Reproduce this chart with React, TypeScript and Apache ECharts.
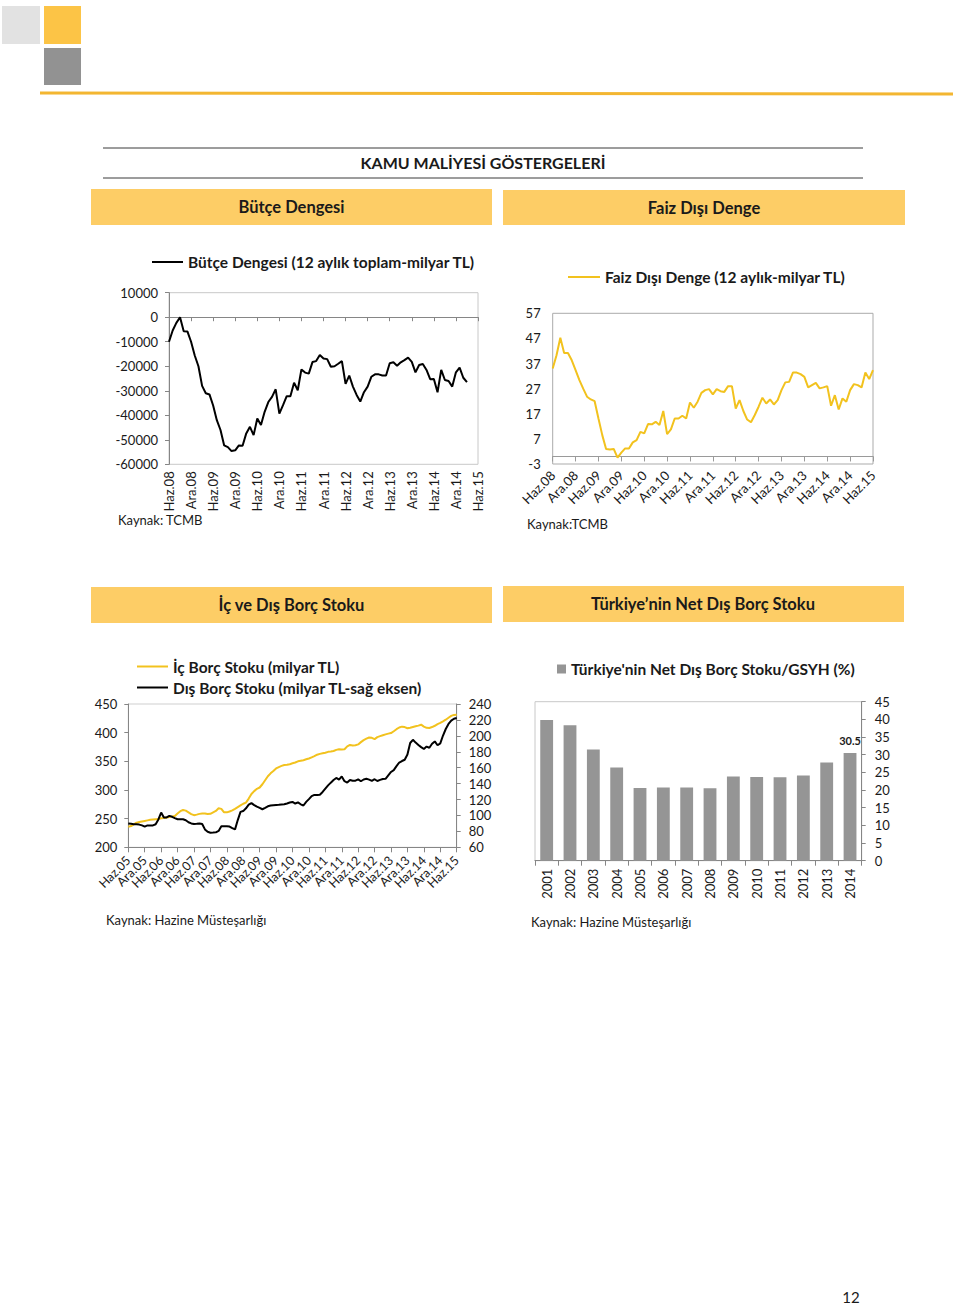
import React, { useEffect, useRef } from "react";
import * as echarts from "echarts";

const FONT = "Lato, 'Noto Sans', sans-serif";
const TEXT = "#1a1a1a";

const TR_MONTHS = ["Oca", "Şub", "Mar", "Nis", "May", "Haz", "Tem", "Ağu", "Eyl", "Eki", "Kas", "Ara"];
function monthLabels(startYear: number, startMonth: number, count: number): string[] {
  const out: string[] = [];
  for (let i = 0; i < count; i++) {
    const m = (startMonth + i) % 12;
    const y = startYear + Math.floor((startMonth + i) / 12);
    out.push(TR_MONTHS[m] + "." + String(y % 100).padStart(2, "0"));
  }
  return out;
}

// Bütçe Dengesi: Haz.08 .. Haz.15 (monthly)
const budgetMonths = monthLabels(2008, 5, 85);
const budgetBalance = [
  -10000, -5400, -2300, 0, -5700, -5800, -10000, -15600, -20000, -28000,
  -31000, -31500, -36000, -42000, -46000, -52300, -53000, -54600, -54300, -52300,
  -52400, -47400, -44700, -48100, -41300, -44000, -38600, -34600, -32500, -29400,
  -39300, -35900, -32200, -32200, -26700, -29800, -21300, -22600, -23000, -18300,
  -17900, -15400, -16800, -17100, -20200, -20000, -19000, -17900, -27200, -23800,
  -28300, -31700, -34400, -30600, -28300, -24300, -23300, -23300, -23800, -23800,
  -18800, -18400, -19800, -18400, -17500, -16500, -18200, -22500, -19500, -19100,
  -21500, -25300, -25200, -30600, -21500, -25600, -26000, -28300, -22500, -20600,
  -24700, -26500,
];

// Faiz Dışı Denge: Haz.08 .. Haz.15
const primaryMonths = monthLabels(2008, 5, 85);
const primaryBalance = [
  35.0, 40.3, 47.3, 41.2, 41.2, 38.3, 34.4, 30.4, 27.0, 23.8,
  22.7, 22.0, 15.1, 8.5, 3.0, 2.8, 3.0, -0.5, 1.5, 3.2,
  3.2, 5.6, 6.5, 9.8, 9.2, 12.9, 12.8, 13.8, 12.5, 18.1,
  8.9, 10.8, 15.1, 15.1, 16.2, 15.1, 21.5, 19.4, 21.8, 25.3,
  26.4, 26.8, 24.7, 26.8, 26.0, 25.7, 28.0, 28.0, 19.1, 22.4,
  18.1, 14.7, 13.6, 16.5, 19.8, 23.4, 21.1, 22.7, 20.7, 22.4,
  26.4, 29.5, 29.7, 33.4, 33.4, 32.8, 31.7, 27.5, 28.4, 29.3,
  27.1, 27.5, 28.0, 20.2, 24.4, 18.7, 23.1, 21.8, 26.4, 28.8,
  28.4, 27.5, 33.4, 30.8, 34.4,
];
const primaryTicks = [-3, 7, 17, 27, 37, 47, 57];

// İç ve Dış Borç Stoku: Haz.05 .. Haz.15
const debtMonths = monthLabels(2005, 5, 121);
const domesticDebt = [
  236, 237, 240, 243, 244, 245, 246, 247, 248, 248.5,
  249, 249.5, 250.5, 251, 252, 253, 253.6, 254.5, 259, 263,
  265, 264, 261, 258, 256, 257, 258.3, 259, 259, 258,
  258.5, 261, 263.5, 268, 267, 261, 261, 262.5, 264.5, 267,
  270, 273, 276, 278, 285, 293, 298, 302, 304.3, 310,
  317, 324, 329, 333, 337.5, 340, 342, 343.5, 344, 345,
  346.5, 348, 350, 351, 352, 353.5, 355, 357, 359, 361.5,
  363, 364, 365, 366.5, 367.2, 368, 370, 371, 370.5, 371,
  376, 378.5, 377.5, 378, 379.5, 383.5, 387, 389.5, 391.5, 391,
  388.8, 392.3, 394, 395.5, 397, 398.3, 399.3, 402.5, 406, 409,
  410.5, 409.7, 407.7, 408.7, 410, 411.3, 412.3, 413.9, 410.6, 408.4,
  408.2, 409.8, 412, 415, 417, 419.7, 422.6, 426, 429.2, 431,
  431.4,
];
const externalDebt = [
  90, 89.5, 89, 88.9, 88.5, 87.5, 86, 87.5, 87.5, 87.5,
  89, 95, 103.7, 97.5, 97.5, 99.5, 98.3, 96.7, 95.2, 95.2,
  95.2, 94, 91.5, 90, 89.2, 89.5, 90, 89.2, 82.5, 79.5,
  78.3, 78.5, 78.75, 80.5, 86.5, 86.5, 86.5, 86, 84, 82.5,
  94.2, 104.5, 105.5, 109, 113.5, 115.5, 113, 111, 109.5, 107.8,
  109.5, 111.5, 112.5, 112.9, 113.1, 113.3, 113.7, 114, 115, 116.2,
  117, 115, 116.5, 114, 112.5, 117, 120.5, 124.3, 125.8, 125.6,
  126, 129.5, 133.7, 137.8, 141.2, 144.5, 147.1, 145, 149, 143,
  141.3, 144.5, 143.5, 143.7, 145.4, 143, 145.2, 146, 145, 143.5,
  145.5, 143.3, 144.7, 145.8, 146, 150.3, 154.6, 157, 162, 166.5,
  168.4, 170, 176.5, 191, 195, 191.5, 188.5, 185.8, 183.5, 186.5,
  185, 190, 193, 188.2, 190.5, 200.4, 208.6, 215, 219.2, 221.5,
  222.5,
];

// Türkiye'nin Net Dış Borç Stoku / GSYH (%)
const years = ["2001", "2002", "2003", "2004", "2005", "2006", "2007", "2008", "2009", "2010", "2011", "2012", "2013", "2014"];
const netExternalDebtRatio = [39.8, 38.3, 31.5, 26.4, 20.6, 20.7, 20.75, 20.5, 23.8, 23.7, 23.6, 24.1, 27.8, 30.5];
const labelledYears = ["2014"];

const S1 = "Bütçe Dengesi (12 aylık toplam-milyar TL)";
const S2 = "Faiz Dışı Denge (12 aylık-milyar TL)";
const S3a = "İç Borç Stoku (milyar TL)";
const S3b = "Dış Borç Stoku (milyar TL-sağ eksen)";
const S4 = "Türkiye'nin Net Dış Borç Stoku/GSYH (%)";

const YELLOW = "#f2c21e";
const HEADER = "#fdcd66";
const AXIS = "#868686";
const LABEL_EVERY = 6; // one month label every six months (Haz / Ara)

function txt(x: number, y: number, text: string, size: number, bold: boolean, align = "left") {
  return {
    type: "text",
    x,
    y,
    style: {
      text,
      fontFamily: FONT,
      fontSize: size,
      fontWeight: bold ? "bold" : "normal",
      fill: TEXT,
      align,
      verticalAlign: "middle",
    },
  };
}

function legendBase(left: number, top: number, data: string[], extra: any = {}) {
  return {
    data,
    left,
    top,
    padding: 0,
    icon: "rect",
    itemWidth: 31,
    itemHeight: 2,
    itemGap: 6,
    selectedMode: false,
    textStyle: { fontFamily: FONT, fontSize: 15.5, fontWeight: "bold", color: TEXT, padding: [0, 0, 0, 0] },
    ...extra,
  };
}

const lbl = (size: number, extra: any = {}) => ({ color: TEXT, fontFamily: FONT, fontSize: size, ...extra });
const plain = (v: number) => String(v);
const everySixth = (value: string, index: number) => (index % LABEL_EVERY === 0 ? value : "");

export default function App() {
  const ref = useRef<HTMLDivElement>(null);
  useEffect(() => {
    document.body.style.margin = "0";
    if (!ref.current) return;
    const chart = echarts.init(ref.current, null, { renderer: "svg" });

    const gridBase = { show: true, containLabel: false, outerBoundsMode: "none", backgroundColor: "transparent", borderWidth: 1 };

    const option: any = {
      animation: false,
      backgroundColor: "#ffffff",
      textStyle: { fontFamily: FONT },
      grid: [
        { ...gridBase, left: 169, top: 292.7, width: 309, height: 171.6, borderColor: "#c8c8c8" },
        { ...gridBase, left: 552.7, top: 313.3, width: 320.3, height: 150.7, borderColor: "#ababab" },
        { ...gridBase, left: 128.3, top: 704, width: 328.4, height: 143.3, borderColor: "#cfcfcf" },
        { ...gridBase, left: 535, top: 701.7, width: 326.7, height: 159, borderColor: "#c8c8c8" },
      ],
      legend: [
        legendBase(152, 254, [S1]),
        legendBase(568, 269, [S2], { itemWidth: 32 }),
        legendBase(137, 658.5, [S3a, S3b], { orient: "vertical", itemGap: 5 }),
        legendBase(557, 661, [S4], { itemWidth: 9, itemHeight: 9 }),
      ],
      xAxis: [
        // chart 1 labels
        {
          gridIndex: 0, type: "category", data: budgetMonths, boundaryGap: false, position: "bottom",
          axisLine: { show: false, onZero: false }, axisTick: { show: false },
          axisLabel: lbl(13, { interval: 0, formatter: everySixth, rotate: 90, margin: 7, hideOverlap: false }),
          splitLine: { show: false },
        },
        // chart 1 zero line
        {
          gridIndex: 0, type: "category", data: budgetMonths, boundaryGap: false, position: "bottom",
          axisLine: { show: true, onZero: true, lineStyle: { color: AXIS, width: 1 } },
          axisTick: { show: true, interval: 5, length: 4, lineStyle: { color: AXIS } },
          axisLabel: { show: false }, splitLine: { show: false },
        },
        // chart 2 labels
        {
          gridIndex: 1, type: "category", data: primaryMonths, boundaryGap: false, position: "bottom",
          axisLine: { show: false, onZero: false }, axisTick: { show: false },
          axisLabel: lbl(13, { interval: 0, formatter: everySixth, rotate: 45, margin: 9, hideOverlap: false }),
          splitLine: { show: false },
        },
        // chart 2 zero line
        {
          gridIndex: 1, type: "category", data: primaryMonths, boundaryGap: false, position: "bottom",
          axisLine: { show: true, onZero: true, lineStyle: { color: "#9a9a9a", width: 1 } },
          axisTick: { show: true, interval: 5, length: 5, lineStyle: { color: "#9a9a9a" } },
          axisLabel: { show: false }, splitLine: { show: false },
        },
        // chart 3
        {
          gridIndex: 2, type: "category", data: debtMonths, boundaryGap: false, position: "bottom",
          axisLine: { show: true, onZero: false, lineStyle: { color: AXIS } },
          axisTick: { show: true, interval: 5, length: 5, lineStyle: { color: AXIS } },
          axisLabel: lbl(12.5, { interval: 0, formatter: everySixth, rotate: 45, margin: 11, hideOverlap: false }),
          splitLine: { show: false },
        },
        // chart 4
        {
          gridIndex: 3, type: "category", data: years, boundaryGap: true, position: "bottom",
          axisLine: { show: true, onZero: false, lineStyle: { color: AXIS } },
          axisTick: { show: true, length: 5, lineStyle: { color: AXIS } },
          axisLabel: lbl(13, { interval: 0, rotate: 90, margin: 8 }), splitLine: { show: false },
        },
      ],
      yAxis: [
        {
          gridIndex: 0, type: "value", min: -60000, max: 10000, interval: 10000,
          axisLine: { show: true, lineStyle: { color: AXIS } },
          axisTick: { show: true, length: 4, lineStyle: { color: AXIS } },
          axisLabel: lbl(13, { margin: 11, formatter: plain }), splitLine: { show: false },
        },
        {
          gridIndex: 1, type: "value", min: -3, max: 57,
          axisLine: { show: false }, axisTick: { show: false },
          axisLabel: lbl(13, { margin: 12, customValues: primaryTicks, formatter: plain }), splitLine: { show: false },
        },
        {
          gridIndex: 2, type: "value", min: 200, max: 450, interval: 50, position: "left",
          axisLine: { show: true, lineStyle: { color: AXIS } },
          axisTick: { show: true, length: 4, lineStyle: { color: AXIS } },
          axisLabel: lbl(13, { margin: 11, formatter: plain }), splitLine: { show: false },
        },
        {
          gridIndex: 2, type: "value", min: 60, max: 240, interval: 20, position: "right",
          axisLine: { show: true, lineStyle: { color: AXIS } },
          axisTick: { show: true, length: 4, lineStyle: { color: AXIS } },
          axisLabel: lbl(13, { margin: 12, formatter: plain }), splitLine: { show: false },
        },
        {
          gridIndex: 3, type: "value", min: 0, max: 45, interval: 5, position: "right",
          axisLine: { show: true, lineStyle: { color: AXIS } },
          axisTick: { show: true, length: 4, lineStyle: { color: AXIS } },
          axisLabel: lbl(13, { margin: 13, formatter: plain }), splitLine: { show: false },
        },
      ],
      series: [
        {
          name: S1, type: "line", xAxisIndex: 0, yAxisIndex: 0, data: budgetBalance,
          showSymbol: false, symbol: "none", lineStyle: { color: "#000", width: 2 }, itemStyle: { color: "#000" },
        },
        {
          name: S2, type: "line", xAxisIndex: 2, yAxisIndex: 1, data: primaryBalance,
          showSymbol: false, symbol: "none", lineStyle: { color: YELLOW, width: 2 }, itemStyle: { color: YELLOW },
        },
        {
          name: S3a, type: "line", xAxisIndex: 4, yAxisIndex: 2, data: domesticDebt,
          showSymbol: false, symbol: "none", lineStyle: { color: YELLOW, width: 2 }, itemStyle: { color: YELLOW },
        },
        {
          name: S3b, type: "line", xAxisIndex: 4, yAxisIndex: 3, data: externalDebt,
          showSymbol: false, symbol: "none", lineStyle: { color: "#000", width: 2 }, itemStyle: { color: "#000" },
        },
        {
          name: S4, type: "bar", xAxisIndex: 5, yAxisIndex: 4, barCategoryGap: "45%",
          itemStyle: { color: "#959595" },
          data: netExternalDebtRatio.map((v, i) =>
            labelledYears.includes(years[i])
              ? { value: v, label: { show: true, position: "top", distance: 7, fontFamily: FONT, fontSize: 11, fontWeight: "bold", color: TEXT } }
              : v
          ),
        },
      ],
      graphic: {
        elements: [
          { type: "rect", shape: { x: 2, y: 6, width: 38, height: 38 }, style: { fill: "#e2e2e2" } },
          { type: "rect", shape: { x: 44, y: 6, width: 37, height: 38 }, style: { fill: "#fcc446" } },
          { type: "rect", shape: { x: 44, y: 48, width: 37, height: 37 }, style: { fill: "#929292" } },
          { type: "polygon", shape: { points: [[40, 91.5], [953, 92.5], [953, 95.5], [40, 94.5]] }, style: { fill: "#f3b631" } },
          { type: "line", shape: { x1: 103, y1: 148, x2: 863, y2: 148 }, style: { stroke: "#3a3a3a", lineWidth: 1 } },
          { type: "line", shape: { x1: 103, y1: 178, x2: 863, y2: 178 }, style: { stroke: "#3a3a3a", lineWidth: 1 } },
          txt(483, 162, "KAMU MALİYESİ GÖSTERGELERİ", 16, true, "center"),
          { type: "rect", shape: { x: 91, y: 189, width: 401, height: 36 }, style: { fill: HEADER } },
          { type: "rect", shape: { x: 503, y: 190, width: 402, height: 35 }, style: { fill: HEADER } },
          txt(291.5, 207, "Bütçe Dengesi", 16.5, true, "center"),
          txt(704, 207.5, "Faiz Dışı Denge", 16.5, true, "center"),
          { type: "rect", shape: { x: 91, y: 587, width: 401, height: 36 }, style: { fill: HEADER } },
          { type: "rect", shape: { x: 503, y: 586, width: 401, height: 36 }, style: { fill: HEADER } },
          txt(291.5, 605, "İç ve Dış Borç Stoku", 16.5, true, "center"),
          txt(703, 604, "Türkiye’nin Net Dış Borç Stoku", 16.5, true, "center"),
          txt(118, 520, "Kaynak: TCMB", 13, false),
          txt(527, 524, "Kaynak:TCMB", 13, false),
          txt(106, 920, "Kaynak: Hazine Müsteşarlığı", 13, false),
          txt(531, 922, "Kaynak: Hazine Müsteşarlığı", 13, false),
          txt(851, 1297, "12", 15, false, "center"),
        ],
      },
    };

    chart.setOption(option);
    return () => chart.dispose();
  }, []);

  return <div ref={ref} style={{ width: 960, height: 1305 }} />;
}
